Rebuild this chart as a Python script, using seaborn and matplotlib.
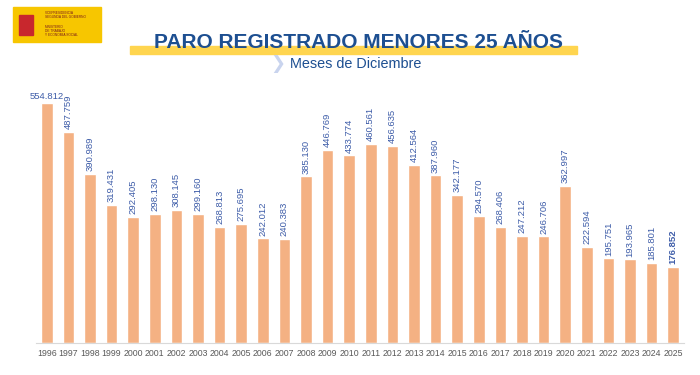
import matplotlib as mpl
mpl.use('Agg')
import matplotlib.pyplot as plt
import matplotlib.patches as patches
import seaborn as sns
import pandas as pd

years = [str(y) for y in range(1996, 2026)]
paro = [554812, 487759, 390989, 319431, 292405, 298130, 308145, 299160,
        268813, 275695, 242012, 240383, 385130, 446769, 433774, 460561,
        456635, 412564, 387960, 342177, 294570, 268406, 247212, 246706,
        362997, 222594, 195751, 193965, 185801, 176852]

title = 'PARO REGISTRADO MENORES 25 AÑOS'
subtitle = 'Meses de Diciembre'

sns.set_style('white')
plt.rcParams['font.family'] = ['Liberation Sans', 'DejaVu Sans']

df = pd.DataFrame({'year': years, 'paro': paro})

fig = plt.figure(figsize=(7, 3.75), dpi=100)
ax = fig.add_axes([0.0514, 0.0853, 0.9257, 0.6747])
sns.barplot(data=df, x='year', y='paro', color='#F4B183', saturation=1,
            width=0.54, ax=ax)

ax.set_ylim(0, 585000)
ax.set_xlim(-0.5, len(years) - 0.5)
ax.set_xlabel('')
ax.set_ylabel('')
ax.set_yticks([])
ax.tick_params(axis='x', labelsize=6.3, labelcolor='#595959', length=0, pad=4)
for s in ['top', 'right', 'left']:
    ax.spines[s].set_visible(False)
ax.spines['bottom'].set_color('#d9d9d9')
ax.spines['bottom'].set_linewidth(0.8)

def fmt(v):
    return f'{v:,}'.replace(',', '.')

for i, v in enumerate(paro):
    if i == 0:
        ax.text(i, v + 4000, fmt(v), ha='center', va='bottom',
                fontsize=6.8, color='#3d5ca8')
    else:
        ax.text(i, v + 6000, fmt(v), ha='center', va='bottom', rotation=90,
                fontsize=6.8, color='#3d5ca8',
                fontweight='bold' if i == len(paro) - 1 else 'normal')

# title band
fig.patches.append(patches.Rectangle((130 / 700, 1 - 54 / 375), 447 / 700, 8 / 375,
                                     transform=fig.transFigure,
                                     color='#FFD54F', zorder=0))
fig.text(358 / 700, 1 - 43 / 375, title, ha='center', va='center',
         fontsize=15, fontweight='bold', color='#1d4f91', zorder=2)
fig.text(270 / 700, 1 - 64 / 375, '\u276F', ha='left', va='center',
         fontsize=13, fontweight='bold', color='#c9d4ee', family=['DejaVu Sans'])
fig.text(290 / 700, 1 - 64 / 375, subtitle, ha='left', va='center',
         fontsize=10.4, color='#1d4f91')

# ministry logo
fig.patches.append(patches.Rectangle((13 / 700, 1 - 42 / 375), 88 / 700, 35 / 375,
                                     transform=fig.transFigure,
                                     color='#F7C600', zorder=0))
fig.patches.append(patches.Rectangle((19 / 700, 1 - 35 / 375), 14 / 700, 20 / 375,
                                     transform=fig.transFigure,
                                     color='#c8272d', zorder=1))
fig.text(45 / 700, 1 - 15 / 375, 'VICEPRESIDENCIA\nSEGUNDA DEL GOBIERNO',
         fontsize=2.3, color='#7a1c1c', va='center', linespacing=1.1)
fig.text(45 / 700, 1 - 31 / 375, 'MINISTERIO\nDE TRABAJO\nY ECONOMÍA SOCIAL',
         fontsize=2.3, color='#7a1c1c', va='center', linespacing=1.1)

fig.savefig('out.png', dpi=100)
plt.close(fig)
